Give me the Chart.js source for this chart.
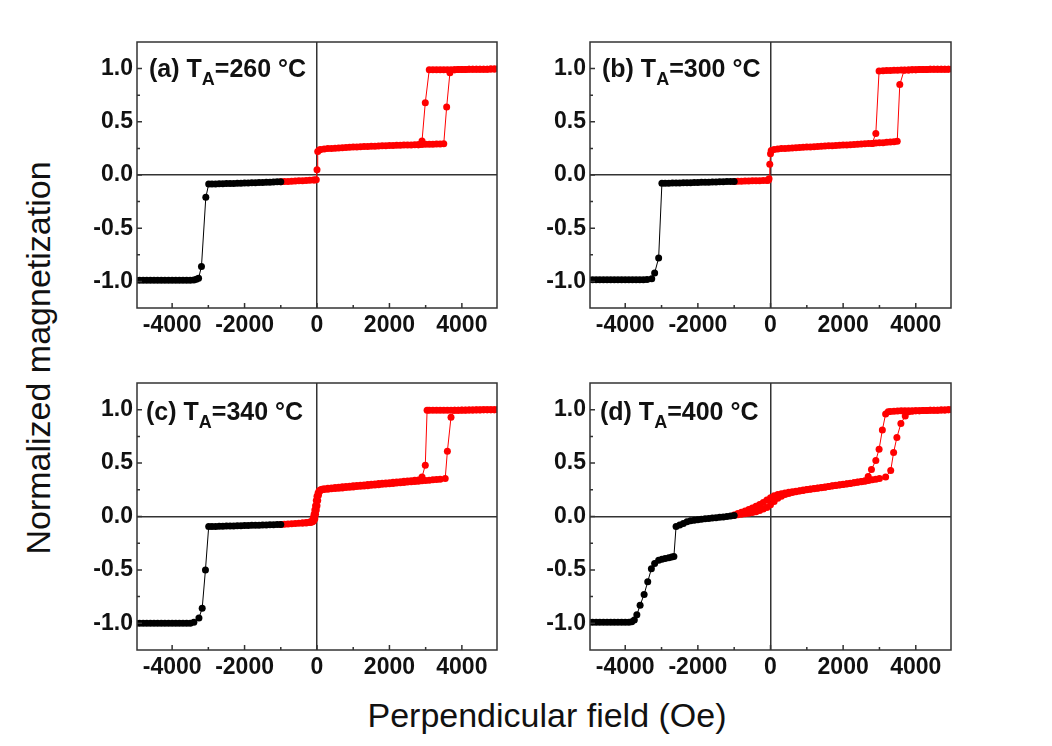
<!DOCTYPE html>
<html lang="en">

<head>
    <meta charset="UTF-8">
    <title>Normalized magnetization vs perpendicular field</title>
    <script src="https://cdn.jsdelivr.net/npm/chart.js@4.4.0/dist/chart.umd.min.js"></script>
    <style>
        body { margin: 0; background: #fff; width: 1052px; height: 746px; overflow: hidden; position: relative;
               font-family: "Liberation Sans", Arial, sans-serif; color: #111; }
        canvas { position: absolute; }
        .tag { position: absolute; font-size: 25px; font-weight: bold; line-height: 30px; white-space: nowrap; }
        .tag span { font-size: 18px; position: relative; top: 8px; }
        .title { position: absolute; font-size: 34px; line-height: 39px; white-space: nowrap; }
    </style>
</head>

<body>
    <canvas id="pa" width="425" height="310" style="left:80px;top:30px"></canvas>
    <canvas id="pb" width="426" height="310" style="left:533px;top:30px"></canvas>
    <canvas id="pc" width="425" height="311" style="left:80px;top:371px"></canvas>
    <canvas id="pd" width="426" height="311" style="left:533px;top:371px"></canvas>

    <div class="tag" style="left:149px;top:53px">(a) T<span>A</span>=260 °C</div>
    <div class="tag" style="left:602px;top:53px">(b) T<span>A</span>=300 °C</div>
    <div class="tag" style="left:146px;top:396px">(c) T<span>A</span>=340 °C</div>
    <div class="tag" style="left:600px;top:396px">(d) T<span>A</span>=400 °C</div>

    <div class="title" style="left:38px;top:358px;transform:translate(-50%,-50%) rotate(-90deg)">Normalized magnetization</div>
    <div class="title" style="left:547px;top:715px;transform:translate(-50%,-50%)">Perpendicular field (Oe)</div>
</body>
<script>
    // axis ticks
    const xMajorTicks = [-4000, -2000, 0, 2000, 4000]
    const xMinorTicks = [-3000, -1000, 1000, 3000]
    const yMajorTicks = [-1, -0.5, 0, 0.5, 1]
    const yMinorTicks = [-0.75, -0.25, 0.25, 0.75]

    // (a) TA=260 C
    const aBlackField = [-5000, -4900, -4800, -4700, -4600, -4500, -4400, -4300, -4200, -4100, -4000, -3900, -3800, -3700, -3600, -3500, -3400,
        -3330, -3270, -3190, -3070, -2990,
        -2900, -2800, -2700, -2600, -2500, -2400, -2300, -2200, -2100, -2000, -1900, -1800, -1700, -1600, -1500, -1400, -1300, -1200, -1100, -1000]
    const aBlackM = [-0.99, -0.99, -0.99, -0.99, -0.99, -0.99, -0.99, -0.99, -0.99, -0.99, -0.99, -0.99, -0.99, -0.99, -0.99, -0.99, -0.988,
        -0.98, -0.97, -0.86, -0.21, -0.085,
        -0.085, -0.084, -0.083, -0.082, -0.081, -0.08, -0.079, -0.078, -0.077, -0.076, -0.075, -0.074, -0.072, -0.071, -0.07, -0.069, -0.067, -0.066, -0.064, -0.063]
    const aUpField = [-1000, -900, -800, -700, -600, -500, -400, -300, -200, -100,
        -60, -20, 0, 20, 60,
        100, 200, 300, 400, 500, 600, 700, 800, 900, 1000, 1100, 1200, 1300, 1400, 1500, 1600, 1700, 1800, 1900, 2000,
        2100, 2200, 2300, 2400, 2500, 2600, 2700, 2800, 2900, 3000, 3100, 3200, 3300, 3400, 3500,
        3580, 3670,
        3800, 3900, 4000, 4100, 4200, 4300, 4400, 4500, 4600, 4700, 4800, 4900, 5000]
    const aUpM = [-0.063, -0.062, -0.06, -0.058, -0.057, -0.055, -0.054, -0.052, -0.05, -0.048,
        -0.047, -0.045, 0.05, 0.22, 0.235,
        0.24, 0.245, 0.248, 0.25, 0.252, 0.254, 0.256, 0.258, 0.26, 0.262, 0.264, 0.265, 0.267, 0.268, 0.27, 0.271, 0.273, 0.274, 0.276, 0.277,
        0.278, 0.279, 0.28, 0.281, 0.282, 0.283, 0.284, 0.285, 0.287, 0.288, 0.289, 0.29, 0.291, 0.292, 0.294,
        0.64, 0.96,
        0.99, 0.991, 0.992, 0.992, 0.993, 0.993, 0.994, 0.994, 0.995, 0.995, 0.996, 0.996, 0.997]
    const aDownField = [5000, 4900, 4800, 4700, 4600, 4500, 4400, 4300, 4200, 4100, 4000, 3900, 3800, 3700, 3600, 3500, 3400, 3300, 3200, 3100,
        2990, 2900, 2800]
    const aDownM = [0.997, 0.996, 0.996, 0.995, 0.995, 0.994, 0.994, 0.993, 0.993, 0.992, 0.992, 0.991, 0.99, 0.99, 0.99, 0.99, 0.99, 0.99, 0.99, 0.99,
        0.68, 0.32, 0.285]

    // (b) TA=300 C
    const bBlackField = [-5000, -4900, -4800, -4700, -4600, -4500, -4400, -4300, -4200, -4100, -4000, -3900, -3800, -3700, -3600, -3500, -3400,
        -3270, -3190, -3080, -2990,
        -2900, -2800, -2700, -2600, -2500, -2400, -2300, -2200, -2100, -2000, -1900, -1800, -1700, -1600, -1500, -1400, -1300, -1200, -1100, -1000]
    const bBlackM = [-0.985, -0.985, -0.985, -0.985, -0.985, -0.985, -0.985, -0.985, -0.985, -0.985, -0.985, -0.985, -0.985, -0.985, -0.985, -0.985, -0.982,
        -0.975, -0.92, -0.78, -0.078,
        -0.078, -0.077, -0.076, -0.075, -0.075, -0.074, -0.073, -0.072, -0.071, -0.07, -0.069, -0.068, -0.067, -0.066, -0.065, -0.064, -0.063, -0.062, -0.061, -0.06]
    const bUpField = [-1000, -900, -800, -700, -600, -500, -400, -300, -200, -100,
        -60, -40, -20, 0, 20,
        100, 200, 300, 400, 500, 600, 700, 800, 900, 1000, 1100, 1200, 1300, 1400, 1500, 1600, 1700, 1800, 1900, 2000,
        2100, 2200, 2300, 2400, 2500, 2600, 2700, 2800, 2900, 3000, 3100, 3200, 3300, 3400,
        3490, 3560, 3680,
        3800, 3900, 4000, 4100, 4200, 4300, 4400, 4500, 4600, 4700, 4800, 4900, 5000]
    const bUpM = [-0.06, -0.059, -0.058, -0.057, -0.056, -0.055, -0.054, -0.053, -0.052, -0.051,
        -0.05, -0.035, 0.1, 0.2, 0.23,
        0.24, 0.245, 0.248, 0.25, 0.252, 0.254, 0.256, 0.258, 0.26, 0.262, 0.264, 0.266, 0.268, 0.27, 0.272, 0.274, 0.276, 0.277, 0.279, 0.281,
        0.283, 0.285, 0.287, 0.289, 0.291, 0.293, 0.295, 0.297, 0.3, 0.302, 0.304, 0.307, 0.309, 0.312,
        0.318, 0.85, 0.985,
        0.988, 0.989, 0.99, 0.991, 0.992, 0.992, 0.993, 0.993, 0.994, 0.994, 0.995, 0.995, 0.996]
    const bDownField = [5000, 4900, 4800, 4700, 4600, 4500, 4400, 4300, 4200, 4100, 4000, 3900, 3800, 3700, 3600, 3500, 3400, 3300, 3200, 3100,
        2990, 2900, 2800]
    const bDownM = [0.996, 0.995, 0.995, 0.994, 0.994, 0.993, 0.993, 0.992, 0.992, 0.991, 0.99, 0.989, 0.988, 0.987, 0.986, 0.985, 0.984, 0.983, 0.981, 0.98,
        0.978, 0.39, 0.297]

    // (c) TA=340 C
    const cBlackField = [-5000, -4900, -4800, -4700, -4600, -4500, -4400, -4300, -4200, -4100, -4000, -3900, -3800, -3700, -3600, -3500, -3400,
        -3260, -3170, -3080, -2990,
        -2900, -2800, -2700, -2600, -2500, -2400, -2300, -2200, -2100, -2000, -1900, -1800, -1700, -1600, -1500, -1400, -1300, -1200, -1100, -1000]
    const cBlackM = [-1.0, -1.0, -1.0, -1.0, -1.0, -1.0, -1.0, -1.0, -1.0, -1.0, -1.0, -1.0, -1.0, -1.0, -1.0, -1.0, -0.99,
        -0.95, -0.86, -0.5, -0.094,
        -0.094, -0.093, -0.092, -0.091, -0.09, -0.089, -0.088, -0.087, -0.086, -0.085, -0.084, -0.083, -0.082, -0.081, -0.08, -0.079, -0.078, -0.077, -0.076, -0.075]
    const cUpField = [-1000, -900, -800, -700, -600, -500, -400, -300, -200,
        -160, -120, -90, -60, -40, -20, 0, 20, 40, 70,
        100, 200, 300, 400, 500, 600, 700, 800, 900, 1000, 1100, 1200, 1300, 1400, 1500, 1600, 1700, 1800, 1900, 2000,
        2100, 2200, 2300, 2400, 2500, 2600, 2700, 2800, 2900, 3000, 3100, 3200, 3300, 3400,
        3540, 3600, 3700,
        3800, 3900, 4000, 4100, 4200, 4300, 4400, 4500, 4600, 4700, 4800, 4900, 5000]
    const cUpM = [-0.075, -0.072, -0.07, -0.068, -0.066, -0.064, -0.062, -0.06, -0.057,
        -0.054, -0.05, -0.04, -0.02, 0.02, 0.06, 0.1, 0.15, 0.2, 0.235,
        0.245, 0.253, 0.256, 0.259, 0.262, 0.265, 0.268, 0.271, 0.274, 0.277, 0.28, 0.283, 0.286, 0.289, 0.292, 0.295, 0.298, 0.301, 0.304, 0.307,
        0.31, 0.313, 0.316, 0.319, 0.322, 0.325, 0.328, 0.331, 0.334, 0.337, 0.34, 0.343, 0.346, 0.349,
        0.355, 0.61, 0.93,
        0.995, 0.995, 0.996, 0.996, 0.997, 0.997, 0.998, 0.998, 0.999, 0.999, 1.0, 1.0, 1.0]
    const cDownField = [5000, 4900, 4800, 4700, 4600, 4500, 4400, 4300, 4200, 4100, 4000, 3900, 3800, 3700, 3600, 3500, 3400, 3300, 3200, 3100,
        3040, 2990, 2900,
        2800, 2700, 2600, 2500, 2400, 2300, 2200, 2100, 2000, 1900, 1800, 1700, 1600, 1500, 1400, 1300, 1200, 1100, 1000,
        900, 800, 700, 600, 500, 400, 300, 200,
        140, 100, 60, 30, 0, -20, -40, -60, -80, -100, -120, -160, -200, -300, -400]
    const cDownM = [1.0, 1.0, 1.0, 1.0, 0.999, 0.999, 0.999, 0.998, 0.998, 0.997, 0.997, 0.996, 0.996, 0.995, 0.995, 0.995, 0.995, 0.995, 0.995, 0.995,
        0.995, 0.48, 0.37,
        0.342, 0.339, 0.335, 0.332, 0.329, 0.326, 0.323, 0.32, 0.317, 0.314, 0.311, 0.308, 0.305, 0.302, 0.299, 0.296, 0.293, 0.29, 0.287,
        0.284, 0.281, 0.278, 0.275, 0.272, 0.268, 0.264, 0.26,
        0.255, 0.25, 0.24, 0.22, 0.19, 0.15, 0.1, 0.06, 0.02, -0.01, -0.035, -0.048, -0.052, -0.056, -0.06]

    // (d) TA=400 C
    const dBlackField = [-5000, -4900, -4800, -4700, -4600, -4500, -4400, -4300, -4200, -4100, -4000, -3900,
        -3820, -3750, -3680, -3590, -3480, -3380, -3280, -3190, -3080, -2990, -2900, -2800, -2720, -2660,
        -2600, -2500, -2400, -2300, -2200, -2100, -2000, -1900, -1800, -1700, -1600, -1500, -1400, -1300, -1200, -1100, -1000]
    const dBlackM = [-0.99, -0.99, -0.99, -0.99, -0.99, -0.99, -0.99, -0.99, -0.99, -0.99, -0.99, -0.99,
        -0.985, -0.97, -0.92, -0.83, -0.73, -0.61, -0.49, -0.44, -0.41, -0.4, -0.393, -0.387, -0.38, -0.375,
        -0.094, -0.08, -0.065, -0.05, -0.04, -0.035, -0.03, -0.026, -0.022, -0.018, -0.015, -0.012, -0.008, -0.004, 0.0, 0.005, 0.01]
    const dUpField = [-1000, -900, -800, -700, -600, -500, -400, -300, -200, -100, 0,
        100, 200, 300, 400, 500, 600, 700, 800, 900, 1000, 1100, 1200, 1300, 1400, 1500, 1600, 1700, 1800, 1900, 2000,
        2100, 2200, 2300, 2400, 2500, 2600, 2700, 2800, 2900, 3000,
        3170, 3310, 3390, 3480, 3590, 3710,
        3800, 3900, 4000, 4100, 4200, 4300, 4400, 4500, 4600, 4700, 4800, 4900, 5000]
    const dUpM = [0.012, 0.016, 0.02, 0.025, 0.03, 0.037, 0.045, 0.056, 0.07, 0.085, 0.11,
        0.14, 0.17, 0.19, 0.205, 0.216, 0.225, 0.232, 0.238, 0.244, 0.25, 0.255, 0.26, 0.265, 0.27, 0.275, 0.28, 0.285, 0.29, 0.295, 0.3,
        0.305, 0.31, 0.315, 0.32, 0.325, 0.33, 0.336, 0.343, 0.349, 0.355,
        0.37, 0.43, 0.6, 0.74, 0.87, 0.94,
        0.98, 0.985, 0.99, 0.991, 0.992, 0.993, 0.994, 0.995, 0.996, 0.997, 0.998, 0.999, 1.0]
    const dDownField = [5000, 4900, 4800, 4700, 4600, 4500, 4400, 4300, 4200, 4100, 4000, 3900, 3800, 3700, 3600, 3500, 3400, 3300,
        3240, 3170, 3080, 2990, 2900, 2780, 2690,
        2600, 2500, 2400, 2300, 2200, 2100, 2000, 1900, 1800, 1700, 1600, 1500, 1400, 1300, 1200, 1100, 1000,
        900, 800, 700, 600, 500, 400, 300, 200, 100, 0, -100, -200, -300, -400, -500, -600, -700, -800, -900, -1000]
    const dDownM = [1.0, 0.999, 0.998, 0.997, 0.996, 0.995, 0.994, 0.993, 0.992, 0.991, 0.99, 0.99, 0.99, 0.99, 0.99, 0.988, 0.985, 0.982,
        0.98, 0.96, 0.81, 0.63, 0.525, 0.44, 0.375,
        0.335, 0.328, 0.322, 0.317, 0.312, 0.307, 0.302, 0.297, 0.292, 0.287, 0.282, 0.277, 0.272, 0.267, 0.262, 0.257, 0.252,
        0.247, 0.242, 0.237, 0.232, 0.226, 0.22, 0.213, 0.205, 0.195, 0.175, 0.155, 0.13, 0.112, 0.095, 0.08, 0.065, 0.052, 0.04, 0.027, 0.015]

    function points(xs, ys) {
        return xs.map((x, i) => ({ x: x, y: ys[i] }))
    }

    function series(xs, ys, color) {
        return {
            data: points(xs, ys),
            showLine: true,
            borderColor: color,
            borderWidth: 1,
            pointRadius: 3.5,
            pointBorderWidth: 0,
            pointBackgroundColor: color,
            clip: 0
        }
    }

    // box around the plot and ticks pointing inwards
    const framePlugin = {
        id: 'frame',
        afterDraw(chart) {
            const ctx = chart.ctx
            const a = chart.chartArea
            const x = chart.scales.x
            const y = chart.scales.y
            ctx.save()
            ctx.strokeStyle = '#333'
            ctx.lineWidth = 1.5
            ctx.strokeRect(a.left, a.top, a.right - a.left, a.bottom - a.top)
            ctx.beginPath()
            xMajorTicks.forEach(v => { let p = x.getPixelForValue(v); ctx.moveTo(p, a.bottom); ctx.lineTo(p, a.bottom - 5) })
            xMinorTicks.forEach(v => { let p = x.getPixelForValue(v); ctx.moveTo(p, a.bottom); ctx.lineTo(p, a.bottom - 3) })
            yMajorTicks.forEach(v => { let p = y.getPixelForValue(v); ctx.moveTo(a.left, p); ctx.lineTo(a.left + 5, p) })
            yMinorTicks.forEach(v => { let p = y.getPixelForValue(v); ctx.moveTo(a.left, p); ctx.lineTo(a.left + 3, p) })
            ctx.stroke()
            ctx.restore()
        }
    }

    const tickFont = { family: '"Liberation Sans", Arial, sans-serif', size: 23, weight: 'bold' }
    const zeroLine = c => (c.tick && c.tick.value === 0) ? '#333' : 'rgba(0,0,0,0)'

    function createPanel(id, black, up, down) {
        new Chart(document.getElementById(id), {
            type: 'scatter',
            data: {
                datasets: [
                    series(black[0], black[1], '#000000'),
                    series(up[0], up[1], '#ff0000'),
                    series(down[0], down[1], '#ff0000')
                ]
            },
            options: {
                responsive: false,
                animation: false,
                layout: { padding: { top: 12, right: 8, left: 0, bottom: 0 } },
                plugins: { legend: { display: false }, tooltip: { enabled: false } },
                scales: {
                    x: {
                        type: 'linear', min: -4970, max: 4970,
                        afterBuildTicks: s => { s.ticks = xMajorTicks.map(v => ({ value: v })) },
                        afterFit: s => { s.height = 32; s.paddingLeft = 0; s.paddingRight = 0 },
                        grid: { drawTicks: false, color: zeroLine, lineWidth: 1.5 },
                        border: { display: false },
                        ticks: { padding: 4, color: '#111', font: tickFont, maxRotation: 0, callback: v => v.toString() }
                    },
                    y: {
                        type: 'linear', min: -1.25, max: 1.25,
                        afterBuildTicks: s => { s.ticks = yMajorTicks.map(v => ({ value: v })) },
                        afterFit: s => { s.width = 57; s.paddingTop = 0; s.paddingBottom = 0 },
                        grid: { drawTicks: false, color: zeroLine, lineWidth: 1.5 },
                        border: { display: false },
                        ticks: { padding: 4, color: '#111', font: tickFont, callback: v => v.toFixed(1) }
                    }
                }
            },
            plugins: [framePlugin]
        })
    }

    createPanel('pa', [aBlackField, aBlackM], [aUpField, aUpM], [aDownField, aDownM])
    createPanel('pb', [bBlackField, bBlackM], [bUpField, bUpM], [bDownField, bDownM])
    createPanel('pc', [cBlackField, cBlackM], [cUpField, cUpM], [cDownField, cDownM])
    createPanel('pd', [dBlackField, dBlackM], [dUpField, dUpM], [dDownField, dDownM])
</script>

</html>
